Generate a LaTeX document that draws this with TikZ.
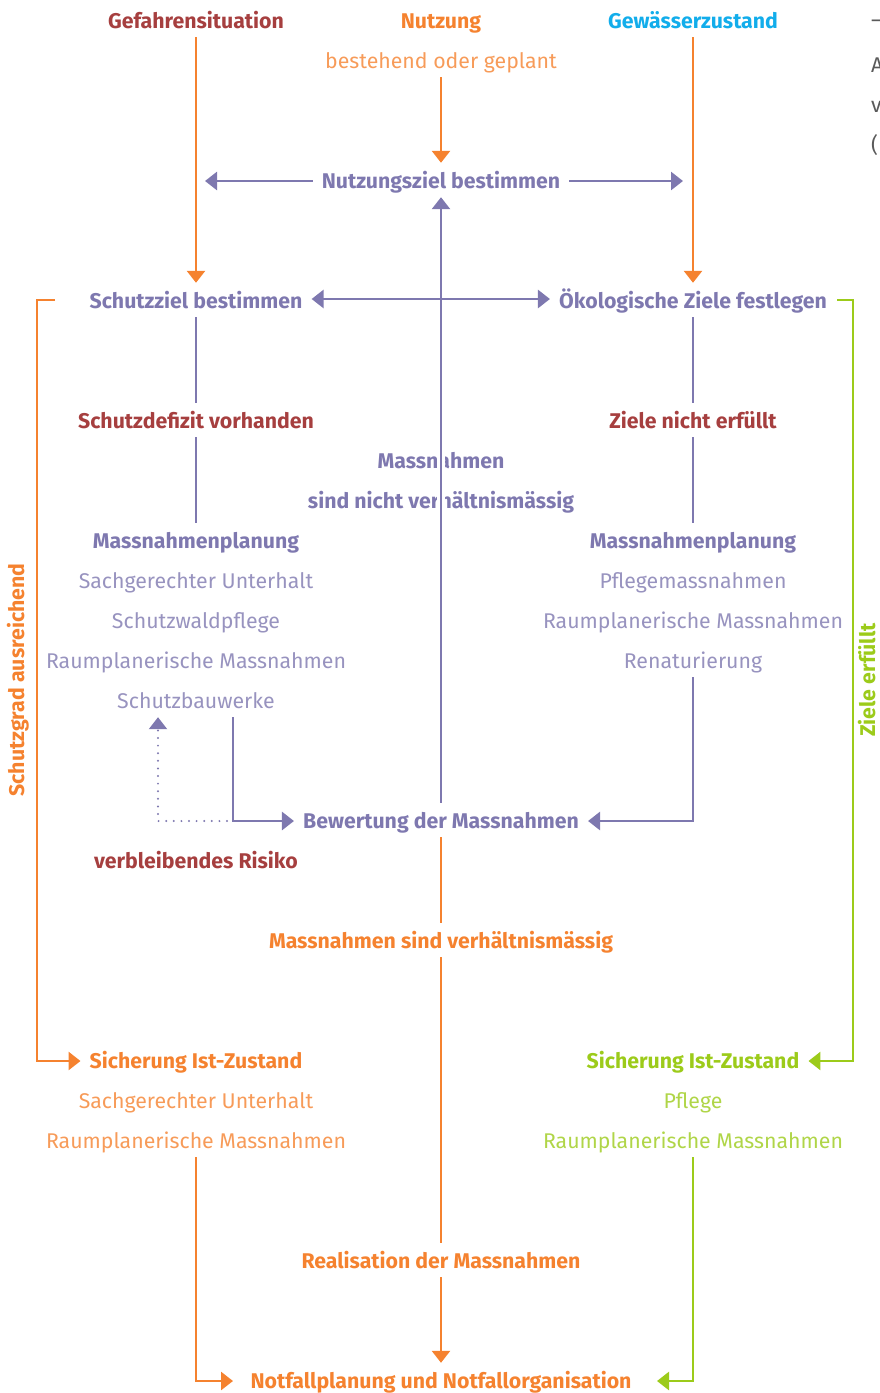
\documentclass[tikz,border=0pt]{standalone}
\usepackage{fontspec}
\setmainfont{Fira Sans}
\usepackage{tikz}
\usetikzlibrary{positioning, arrows.meta}

\definecolor{risk}{HTML}{A63F3F}
\definecolor{use}{HTML}{F5822F}
\definecolor{water}{HTML}{12ADEB}
\definecolor{plan}{HTML}{7E78AF}
\definecolor{keep}{HTML}{9CCB1A}
\definecolor{side}{HTML}{5A5A5A}

\begin{document}
\begin{tikzpicture}[x=1pt, y=-1pt,
  every node/.style={font=\fontsize{21.3}{24}\selectfont, text height=18pt, text depth=2pt, inner xsep=9pt, inner ysep=7pt},
  head/.style={font=\fontsize{21.3}{24}\selectfont\bfseries},
  item/.style={opacity=0.8},
  sidelabel/.style={head, rotate=90, text height=14pt, text depth=4pt, inner sep=1pt},
  flow/.style={line width=2.7pt, -{Triangle[length=12pt,width=18pt]}},
  link/.style={line width=2.7pt}]
\useasboundingbox (0,0) rectangle (879,1393);

% Top row
\node[head, risk] (gefahr) at (196,20) {Gefahrensituation};
\node[head, use] (nutzung) at (441,20) {Nutzung};
\node[use, item] (geplant) at (441,60) {bestehend oder geplant};
\node[head, water] (gewaesser) at (693,20) {Gewässerzustand};

% next column, cut off at the edge
\node[side, anchor=west, inner sep=0pt] (s1) at (871,19) {–};
\node[side, anchor=west, inner sep=0pt] (s2) at (871,64) {A};
\node[side, anchor=west, inner sep=0pt] (s3) at (871,104) {v};
\node[side, anchor=west, inner sep=0pt] (s4) at (871,144) {(};

% Goals
\node[head, plan] (nutzziel) at (441,180) {Nutzungsziel bestimmen};
\node[head, plan] (schutzziel) at (196,300) {Schutzziel bestimmen};
\node[head, plan] (oekoziel) at (693,300) {Ökologische Ziele festlegen};

% Deficits
\node[head, risk] (defizit) at (196,420) {Schutzdefizit vorhanden};
\node[head, risk] (nichterf) at (693,420) {Ziele nicht erfüllt};
\node[head, plan] (nmass) at (441,460) {Massnahmen};
\node[head, plan] (nverh) at (441,500) {sind nicht verhältnismässig};

% Left planning
\node[head, plan] (planl) at (196,540) {Massnahmenplanung};
\node[plan, item] (unterhalt) at (196,580) {Sachgerechter Unterhalt};
\node[plan, item] (waldpflege) at (196,620) {Schutzwaldpflege};
\node[plan, item] (raumpl) at (196,660) {Raumplanerische Massnahmen};
\node[plan, item] (schutzbau) at (196,700) {Schutzbauwerke};

% Right planning
\node[head, plan] (planr) at (693,540) {Massnahmenplanung};
\node[plan, item] (pflegem) at (693,580) {Pflegemassnahmen};
\node[plan, item] (raumpr) at (693,620) {Raumplanerische Massnahmen};
\node[plan, item] (renat) at (693,660) {Renaturierung};

% Evaluation
\node[head, plan] (bewertung) at (441,820) {Bewertung der Massnahmen};
\node[head, risk] (restrisiko) at (196,860) {verbleibendes Risiko};
\node[head, use] (verh) at (441,940) {Massnahmen sind verhältnismässig};

% Securing the current state
\node[head, use] (sicherl) at (196,1060) {Sicherung Ist-Zustand};
\node[use, item] (unterhl) at (196,1100) {Sachgerechter Unterhalt};
\node[use, item] (raumll) at (196,1140) {Raumplanerische Massnahmen};
\node[head, keep] (sicherr) at (693,1060) {Sicherung Ist-Zustand};
\node[keep, item] (pfleger) at (693,1100) {Pflege};
\node[keep, item] (raumrr) at (693,1140) {Raumplanerische Massnahmen};

% Bottom
\node[head, use] (real) at (441,1260) {Realisation der Massnahmen};
\node[head, use] (notfall) at (441,1380) {Notfallplanung und Notfallorganisation};

% Side labels
\node[sidelabel, use] (ausreichend) at (19,680) {Schutzgrad ausreichend};
\node[sidelabel, keep] (erfuellt) at (870,680) {Ziele erfüllt};

% Knees and free ends
\coordinate (nzleft) at (205,181);
\coordinate (nzright) at (683,181);
\coordinate (lstart) at (55,300);
\coordinate (ltop) at (37,300);
\coordinate (lbot) at (37,1061);
\coordinate (rstart) at (837,300);
\coordinate (rtop) at (853,300);
\coordinate (rbot) at (853,1061);
\coordinate (sbknee) at (233,821);
\coordinate (dotknee) at (158,821);
\coordinate (renknee) at (693,821);
\coordinate (lowl) at (196,1381);
\coordinate (lowr) at (693,1381);
\coordinate (lowlend) at (233,1381);
\coordinate (lowrend) at (657,1381);

% Arrows into the goals
\draw[flow, use] (gefahr) -- (schutzziel);
\draw[flow, use] (geplant) -- (nutzziel);
\draw[flow, use] (gewaesser) -- (oekoziel);
\draw[flow, plan] (nutzziel.west |- nzleft) -- (nzleft);
\draw[flow, plan] (nutzziel.east |- nzright) -- (nzright);
\draw[flow, plan, {Triangle[length=12pt,width=18pt]}-{Triangle[length=12pt,width=18pt]}] ([yshift=1pt]schutzziel.east) -- ([yshift=1pt]oekoziel.west);

% Down to the planning
\draw[link, plan] (schutzziel) -- (defizit);
\draw[link, plan] (defizit) -- (planl);
\draw[link, plan] (oekoziel) -- (nichterf);
\draw[link, plan] (nichterf) -- (planr);

% Into the evaluation
\draw[flow, plan] (schutzbau.south -| sbknee) -- (sbknee) -- (bewertung.west |- sbknee);
\draw[flow, plan, line width=2.2pt, dash pattern=on 0pt off 7.6pt, line cap=round] ([xshift=-6pt]sbknee) -- (dotknee) -- (dotknee |- schutzbau.south);
\draw[flow, plan] (renat) -- (renknee) -- (bewertung.east |- renknee);

% Back up to the use goal
\draw[white, line width=8pt] (bewertung |- nmass.north) -- (bewertung |- nverh.south);
\draw[flow, plan] (bewertung) -- (nutzziel);

% Realisation
\draw[link, use] (bewertung) -- (verh);
\draw[link, use] (verh) -- (real);
\draw[flow, use] (real) -- (notfall);

% Side loops
\draw[flow, use] (lstart) -- (ltop) -- (lbot) -- (sicherl.west |- lbot);
\draw[flow, keep] (rstart) -- (rtop) -- (rbot) -- (sicherr.east |- rbot);
\draw[flow, use] (raumll) -- (lowl) -- (lowlend);
\draw[flow, keep] (raumrr) -- (lowr) -- (lowrend);
\end{tikzpicture}
\end{document}
